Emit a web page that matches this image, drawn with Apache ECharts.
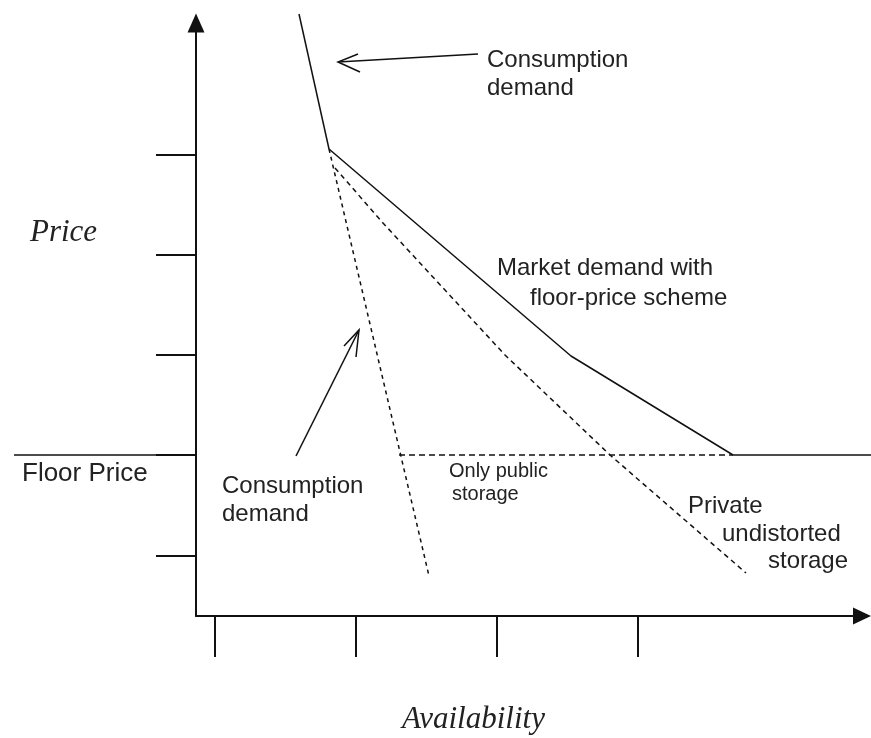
<!DOCTYPE html>
<html>
<head>
<meta charset="utf-8">
<script src="https://cdn.jsdelivr.net/npm/echarts@6/dist/echarts.min.js"></script>
<style>
html,body{margin:0;padding:0;background:#ffffff;}
#chart{width:871px;height:738px;}
</style>
</head>
<body>
<div id="chart"></div>
<script>
// Values (availability on x, price on y, arbitrary units)
const consumptionSolid  = [[103, 602], [133, 467]];
const consumptionDashed = [[133, 467], [233, 40]];
const marketDemand      = [[133, 467], [375, 260], [537, 161]];
const privateStorage    = [[139, 448], [187, 393], [309, 261], [414, 161], [550, 43]];
const publicStorage     = [[203, 161], [537, 161]];
const floorRight        = [[537, 161], [675, 161]];
const floorLeft         = [[-182, 161], [0, 161]];
const xTicks = [19, 160, 301, 442];
const yTicks = [60, 161, 261, 361, 461];

const INK = '#111111';
const TXT = '#222222';
const SANS = '"Liberation Sans", Arial, sans-serif';
const SERIF = '"Liberation Serif", "Times New Roman", serif';

function lineSeries(name, data, type, onWide) {
  return {
    name: name,
    type: 'line',
    data: data,
    xAxisIndex: onWide ? 1 : 0,
    yAxisIndex: onWide ? 1 : 0,
    symbol: 'none',
    showSymbol: false,
    clip: false,
    silent: true,
    animation: false,
    lineStyle: { color: INK, width: 1.5, type: type || 'solid' }
  };
}

function label(text, x, baseline, size, family, italic) {
  const mid = baseline - size * (family === SERIF ? 0.34 : 0.35);
  return {
    type: 'text',
    x: x, y: mid,
    silent: true,
    style: {
      text: text,
      font: (italic ? 'italic ' : '') + size + 'px ' + family,
      fill: TXT,
      align: 'left', verticalAlign: 'middle',
      textAlign: 'left', textVerticalAlign: 'middle'
    }
  };
}

const chart = echarts.init(document.getElementById('chart'), null, { renderer: 'canvas' });

const hiddenAxis = {
  show: false, type: 'value',
  axisLine: { show: false }, axisTick: { show: false }, axisLabel: { show: false }, splitLine: { show: false }
};

const option = {
  backgroundColor: '#ffffff',
  animation: false,
  grid: [
    { left: 196, right: 9, top: 23, bottom: 122, containLabel: false, outerBoundsMode: 'none' },
    // same scale, extended over the whole canvas, for the parts drawn beyond the axes
    { left: 0, right: 0, top: 0, bottom: 0, containLabel: false, outerBoundsMode: 'none' }
  ],
  xAxis: [{
    type: 'value', min: 0, max: 666, gridIndex: 0,
    axisLine: { show: true, onZero: false, symbol: ['none', 'triangle'], symbolSize: [17, 18],
                lineStyle: { color: INK, width: 2 } },
    axisTick: { show: true, customValues: xTicks, length: 41, inside: false,
                lineStyle: { color: INK, width: 2 } },
    axisLabel: { show: false },
    splitLine: { show: false }
  }, Object.assign({}, hiddenAxis, { gridIndex: 1, min: -196, max: 675 })],
  yAxis: [{
    type: 'value', min: 0, max: 593, gridIndex: 0,
    axisLine: { show: true, onZero: false, symbol: ['none', 'triangle'], symbolSize: [17, 19],
                lineStyle: { color: INK, width: 2 } },
    axisTick: { show: true, customValues: yTicks, length: 40, inside: false,
                lineStyle: { color: INK, width: 2 } },
    axisLabel: { show: false },
    splitLine: { show: false }
  }, Object.assign({}, hiddenAxis, { gridIndex: 1, min: -122, max: 616 })],
  series: [
    lineSeries('Consumption demand', consumptionSolid, 'solid', true),
    lineSeries('Consumption demand (below kink)', consumptionDashed, [4, 4]),
    lineSeries('Market demand with floor-price scheme', marketDemand),
    lineSeries('Private undistorted storage', privateStorage, [5, 4]),
    lineSeries('Only public storage', publicStorage, [6, 4]),
    lineSeries('Floor price', floorRight, 'solid', true),
    lineSeries('Floor price (axis)', floorLeft, 'solid', true)
  ],
  graphic: [
    // annotation arrows
    { type: 'polyline', silent: true, shape: { points: [[478, 54], [338, 62]] },
      style: { stroke: INK, lineWidth: 1.5, fill: null } },
    { type: 'polyline', silent: true, shape: { points: [[358, 54], [338, 62], [360, 72]] },
      style: { stroke: INK, lineWidth: 1.5, fill: null } },
    { type: 'polyline', silent: true, shape: { points: [[296, 456], [359, 330]] },
      style: { stroke: INK, lineWidth: 1.5, fill: null } },
    { type: 'polyline', silent: true, shape: { points: [[344, 346], [359, 330], [356, 357]] },
      style: { stroke: INK, lineWidth: 1.5, fill: null } },
    // texts
    label('Consumption', 487, 69, 24, SANS),
    label('demand', 487, 97, 24, SANS),
    label('Market demand with', 497, 277, 24, SANS),
    label('floor-price scheme', 530, 307, 24, SANS),
    label('Floor Price', 22, 483, 26, SANS),
    label('Consumption', 222, 495, 24, SANS),
    label('demand', 222, 523, 24, SANS),
    label('Only public', 449, 478, 20, SANS),
    label('storage', 452, 501, 20, SANS),
    label('Private', 688, 515, 24, SANS),
    label('undistorted', 722, 543, 24, SANS),
    label('storage', 768, 570, 24, SANS),
    label('Price', 30, 243, 31, SERIF, true),
    label('Availability', 402, 730, 31, SERIF, true)
  ]
};

chart.setOption(option);
</script>
</body>
</html>
